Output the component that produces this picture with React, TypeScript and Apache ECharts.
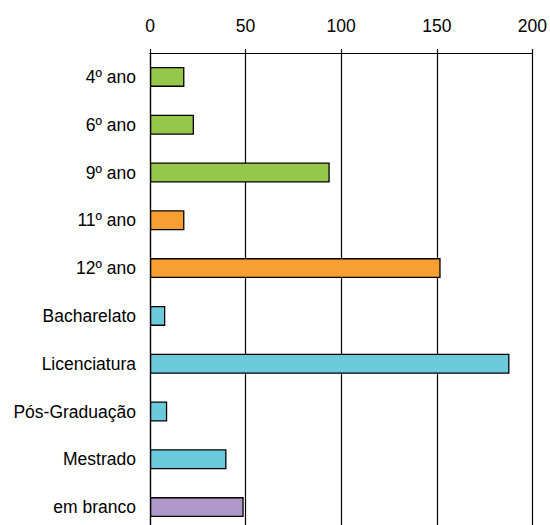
import React, { useEffect, useRef } from "react";
import * as echarts from "echarts";

const categories = [
  "4º ano",
  "6º ano",
  "9º ano",
  "11º ano",
  "12º ano",
  "Bacharelato",
  "Licenciatura",
  "Pós-Graduação",
  "Mestrado",
  "em branco",
];
const values = [18, 23, 94, 18, 152, 8, 188, 9, 40, 49];
const groupOf = [0, 0, 0, 1, 1, 2, 2, 2, 2, 3];
const groupColors = ["#95c748", "#f89f32", "#6bcbdc", "#ae98c8"];
const xTicks = [0, 50, 100, 150, 200];

const FONT = "'Liberation Sans', Arial, sans-serif";

export default function App() {
  const ref = useRef<HTMLDivElement>(null);
  useEffect(() => {
    if (!ref.current) return;
    const chart = echarts.init(ref.current, undefined, { renderer: "svg" });
    chart.setOption({
      animation: false,
      backgroundColor: "#ffffff",
      grid: { left: 150, right: 14, top: 53, height: 478, containLabel: false },
      xAxis: {
        type: "value",
        position: "top",
        min: xTicks[0],
        max: xTicks[xTicks.length - 1],
        interval: 50,
        axisLine: { show: true, lineStyle: { color: "#000", width: 1.2 } },
        axisTick: { show: true, inside: false, length: 4, lineStyle: { color: "#000", width: 1.2 } },
        splitLine: { show: true, lineStyle: { color: "#000", width: 1.2 } },
        axisLabel: { fontSize: 17.5, color: "#000", fontFamily: FONT, margin: 18 },
      },
      yAxis: {
        type: "category",
        inverse: true,
        data: categories,
        axisLine: { show: true, lineStyle: { color: "#000", width: 1.2 } },
        axisTick: { show: false },
        axisLabel: { fontSize: 17.5, color: "#000", fontFamily: FONT, margin: 14 },
      },
      series: [
        {
          type: "bar",
          barWidth: 20,
          data: values.map((v, i) => ({
            value: v,
            itemStyle: { color: groupColors[groupOf[i]] },
          })),
          itemStyle: { borderColor: "#000", borderWidth: 1.3 },
        },
      ],
    });
    return () => chart.dispose();
  }, []);
  return (
    <div
      style={{
        position: "fixed",
        left: 0,
        top: 0,
        width: 550,
        height: 525,
        overflow: "hidden",
        background: "#fff",
      }}
    >
      <div ref={ref} style={{ width: 550, height: 545 }} />
    </div>
  );
}
